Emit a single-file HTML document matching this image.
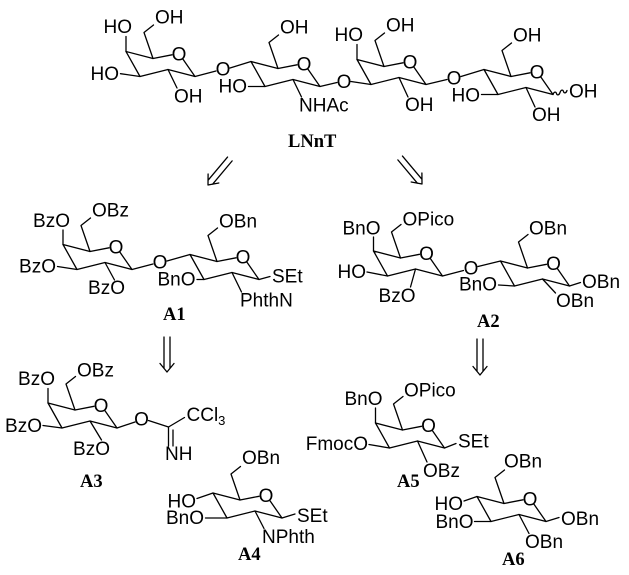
<!DOCTYPE html>
<html>
<head>
<meta charset="utf-8">
<style>
html,body{margin:0;padding:0;background:#fff;}
svg{display:block;}
.a{font-family:"Liberation Sans",Arial,sans-serif;font-size:19px;fill:#000;}
.b{font-family:"Liberation Serif","Times New Roman",serif;font-size:18.5px;font-weight:bold;fill:#000;}
.s{font-size:13px;}
</style>
</head>
<body>
<svg width="629" height="575" viewBox="0 0 629 575" xmlns="http://www.w3.org/2000/svg">
<rect width="629" height="575" fill="#fff"/>
<g stroke="#000" stroke-width="1.3" fill="none" stroke-linejoin="round" stroke-linecap="round">
<!-- LNnT Gal1 -->
<path d="M183,59.3 L195,76.5 L168,69.5 L140,76.5 L126,51.5 L153,58.5 L172,54.8"/>
<path d="M153,58.5 L144,32.5 L153.5,25"/>
<path d="M126,51.5 L126,36.5"/>
<path d="M140,76.5 L120.5,73.7"/>
<path d="M168,69.5 L177,88"/>
<path d="M195,76.5 L216,71 M230,68 L251,61.5"/>
<!-- GlcNAc -->
<path d="M308,69.3 L320,86.5 L293,79.5 L265,86.5 L251,61.5 L278,68.5 L297,64.8"/>
<path d="M278,68.5 L269,42.5 L278.5,35"/>
<path d="M265,86.5 L248.5,86.5"/>
<path d="M293,79.5 L301.5,97"/>
<path d="M320,86.5 L337,82.5 M351,81.5 L371,84.5"/>
<!-- Gal2 -->
<path d="M414,67.3 L426,84.5 L399,77.5 L371,84.5 L357,59.5 L384,66.5 L403,62.8"/>
<path d="M384,66.5 L375,40.5 L384.5,33"/>
<path d="M357,59.5 L357,44.5"/>
<path d="M399,77.5 L408,97"/>
<path d="M426,84.5 L447,79.5 M461,76.5 L484,69.5"/>
<!-- Glc -->
<path d="M541,77.3 L553,94.5 L526,87.5 L498,94.5 L484,69.5 L511,76.5 L530,72.8"/>
<path d="M511,76.5 L502,50.5 L511.5,43"/>
<path d="M498,94.5 L481.5,94.5"/>
<path d="M526,87.5 L535,107"/>
<path d="M553,94.5 c1,-3 3,-3 3.5,-1 c0.5,2 2.5,2 3.5,-1 c1,-3 3,-3 3.5,-1 c0.5,2 2.5,2 3.5,-1"/>

<!-- A1 Gal -->
<path d="M120,252.3 L132,269.5 L105,262.5 L77,269.5 L63,244.5 L90,251.5 L109,247.8"/>
<path d="M90,251.5 L81,225.5 L90.5,218"/>
<path d="M63,244.5 L63,230"/>
<path d="M77,269.5 L57.5,266.5"/>
<path d="M105,262.5 L114.5,280"/>
<path d="M132,269.5 L153,264 M167,261 L190,254.5"/>
<!-- A1 Glc -->
<path d="M247,262.3 L259,279.5 L232,272.5 L204,279.5 L190,254.5 L217,261.5 L236,257.8"/>
<path d="M217,261.5 L208,235.5 L217.5,228"/>
<path d="M204,279.5 L197,279.5"/>
<path d="M232,272.5 L241.5,292"/>
<path d="M259,279.5 L270,276.5"/>

<!-- A2 Gal -->
<path d="M430.5,258.8 L442.5,276 L415.5,269 L387.5,276 L373.5,251 L400.5,258 L419.5,254.3"/>
<path d="M400.5,258 L391.5,232 L401,224.5"/>
<path d="M373.5,251 L373.5,237"/>
<path d="M387.5,276 L367,272"/>
<path d="M415.5,269 L410.5,287"/>
<path d="M442.5,276 L463.5,270.5 M478,266.5 L500.5,261"/>
<!-- A2 Glc -->
<path d="M557.5,268.8 L569.5,286 L542.5,279 L514.5,286 L500.5,261 L527.5,268 L546.5,264.3"/>
<path d="M527.5,268 L518.5,242 L528,234.5"/>
<path d="M514.5,286 L498.5,285"/>
<path d="M542.5,279 L555.5,293"/>
<path d="M569.5,286 L580.5,282.5"/>

<!-- A3 -->
<path d="M105,410.8 L117,428 L90,421 L62,428 L48,403 L75,410 L94,406.3"/>
<path d="M75,410 L66,384 L75.5,376.5"/>
<path d="M48,403 L48,388.5"/>
<path d="M62,428 L43,425.5"/>
<path d="M90,421 L101.5,440"/>
<path d="M117,428 L135,422 M148.5,420.5 L168.5,427"/>
<path d="M168.5,427 L184.5,417.5 M168.5,427 L168.5,446 M173,430 L173,446"/>

<!-- A4 -->
<path d="M270,500.8 L282,518 L255,511 L227,518 L213,493 L240,500 L259,496.3"/>
<path d="M240,500 L231,474 L240.5,466.5"/>
<path d="M213,493 L197,498.5"/>
<path d="M227,518 L205.5,518"/>
<path d="M255,511 L264,528.5"/>
<path d="M282,518 L295,514"/>

<!-- A5 -->
<path d="M432.5,430.8 L444.5,448 L417.5,441 L389.5,448 L375.5,423 L402.5,430 L421.5,426.3"/>
<path d="M402.5,430 L393.5,404 L403,396.5"/>
<path d="M375.5,423 L375.5,408"/>
<path d="M389.5,448 L369,444.5"/>
<path d="M417.5,441 L427,462"/>
<path d="M444.5,448 L456,443.5"/>

<!-- A6 -->
<path d="M534,504.3 L546,521.5 L519,514.5 L491,521.5 L477,496.5 L504,503.5 L523,499.8"/>
<path d="M504,503.5 L495,477.5 L504.5,470"/>
<path d="M477,496.5 L464,501"/>
<path d="M491,521.5 L474.5,521.5"/>
<path d="M519,514.5 L529,533.5"/>
<path d="M546,521.5 L559,517.5"/>

<!-- Arrows -->
<g transform="translate(208,185) rotate(40)"><path d="M-7,-8.5 L0,0 L7,-8.5 M-3,-34 L-3,-3.6 M3,-34 L3,-3.6"/></g>
<g transform="translate(422,184) rotate(-40)"><path d="M-7,-8.5 L0,0 L7,-8.5 M-3,-34 L-3,-3.6 M3,-34 L3,-3.6"/></g>
<g transform="translate(167,372)"><path d="M-7,-8.5 L0,0 L7,-8.5 M-3,-35 L-3,-3.6 M3,-35 L3,-3.6"/></g>
<g transform="translate(480,375)"><path d="M-7,-8.5 L0,0 L7,-8.5 M-3,-36 L-3,-3.6 M3,-36 L3,-3.6"/></g>
</g>

<!-- LNnT texts -->
<g class="a">
<text x="179" y="60.3" text-anchor="middle">O</text>
<text x="155" y="23.5">OH</text>
<text x="132" y="33" text-anchor="end">HO</text>
<text x="119" y="80" text-anchor="end">HO</text>
<text x="174" y="102.5">OH</text>
<text x="223" y="75.3" text-anchor="middle">O</text>

<text x="304" y="70.3" text-anchor="middle">O</text>
<text x="280" y="33.5">OH</text>
<text x="247" y="92.5" text-anchor="end">HO</text>
<text x="299" y="111.5">NHAc</text>
<text x="344" y="87.8" text-anchor="middle">O</text>

<text x="410" y="68.3" text-anchor="middle">O</text>
<text x="386" y="31.5">OH</text>
<text x="363" y="41" text-anchor="end">HO</text>
<text x="405" y="111">OH</text>
<text x="454" y="84.3" text-anchor="middle">O</text>

<text x="537" y="78.3" text-anchor="middle">O</text>
<text x="513" y="41.5">OH</text>
<text x="480" y="101.5" text-anchor="end">HO</text>
<text x="532" y="121">OH</text>
<text x="569" y="97.5">OH</text>

<!-- A1 -->
<text x="116" y="253.3" text-anchor="middle">O</text>
<text x="92" y="216.5">OBz</text>
<text x="70" y="227" text-anchor="end">BzO</text>
<text x="56" y="272.5" text-anchor="end">BzO</text>
<text x="125" y="294" text-anchor="end">BzO</text>
<text x="160" y="268.3" text-anchor="middle">O</text>
<text x="243" y="263.3" text-anchor="middle">O</text>
<text x="219" y="227.5">OBn</text>
<text x="195.5" y="285.5" text-anchor="end">BnO</text>
<text x="240" y="306.5">PhthN</text>
<text x="272" y="282.5">SEt</text>

<!-- A2 -->
<text x="426.5" y="259.8" text-anchor="middle">O</text>
<text x="402.5" y="225.5">OPico</text>
<text x="380.5" y="234.5" text-anchor="end">BnO</text>
<text x="366" y="278" text-anchor="end">HO</text>
<text x="415.5" y="302" text-anchor="end">BzO</text>
<text x="471" y="274.3" text-anchor="middle">O</text>
<text x="553.5" y="269.8" text-anchor="middle">O</text>
<text x="529" y="234.5">OBn</text>
<text x="497" y="290.5" text-anchor="end">BnO</text>
<text x="556" y="307">OBn</text>
<text x="582" y="288">OBn</text>

<!-- A3 -->
<text x="101" y="411.8" text-anchor="middle">O</text>
<text x="77" y="376.5">OBz</text>
<text x="55" y="385" text-anchor="end">BzO</text>
<text x="42" y="432" text-anchor="end">BzO</text>
<text x="110" y="455" text-anchor="end">BzO</text>
<text x="141.5" y="425.3" text-anchor="middle">O</text>
<text x="186.5" y="421">CCl<tspan class="s" dy="4">3</tspan></text>
<text x="165" y="460">NH</text>

<!-- A4 -->
<text x="266" y="501.8" text-anchor="middle">O</text>
<text x="242" y="464">OBn</text>
<text x="196" y="507.5" text-anchor="end">HO</text>
<text x="204" y="524" text-anchor="end">BnO</text>
<text x="262" y="543">NPhth</text>
<text x="297" y="522">SEt</text>

<!-- A5 -->
<text x="428.5" y="431.8" text-anchor="middle">O</text>
<text x="404" y="396.5">OPico</text>
<text x="382.5" y="405" text-anchor="end">BnO</text>
<text x="368" y="450" text-anchor="end">FmocO</text>
<text x="423" y="477">OBz</text>
<text x="458" y="447.5">SEt</text>

<!-- A6 -->
<text x="530" y="505.3" text-anchor="middle">O</text>
<text x="504" y="467.5">OBn</text>
<text x="463" y="510" text-anchor="end">HO</text>
<text x="473.5" y="528" text-anchor="end">BnO</text>
<text x="525" y="548">OBn</text>
<text x="561" y="525">OBn</text>
</g>

<g class="b">
<text x="288" y="147">LNnT</text>
<text x="163" y="320">A1</text>
<text x="477" y="327">A2</text>
<text x="80" y="487">A3</text>
<text x="238" y="560">A4</text>
<text x="397" y="487">A5</text>
<text x="502" y="565">A6</text>
</g>
</svg>
</body>
</html>
